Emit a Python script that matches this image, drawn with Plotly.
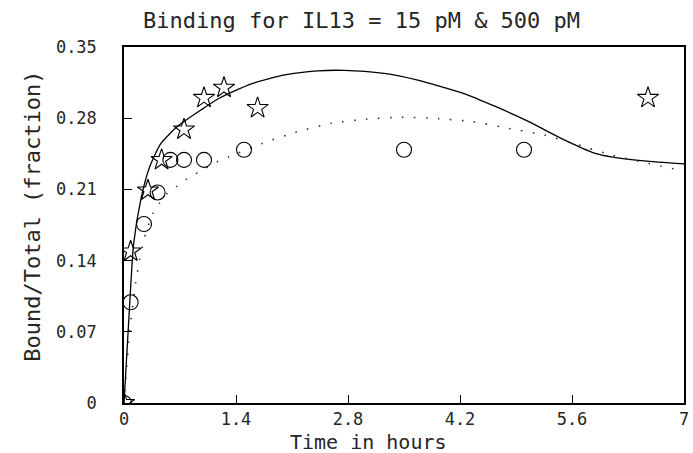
import plotly.graph_objects as go

# ---- data ----
# 15 pM (circles, dotted model curve)
circ_t = [0, 0.083, 0.25, 0.42, 0.58, 0.75, 1.0, 1.5, 3.5, 5.0]
circ_y = [0, 0.099, 0.176, 0.207, 0.239, 0.239, 0.239, 0.249, 0.249, 0.249]

# 500 pM (stars, solid model curve)
star_t = [0, 0.083, 0.3, 0.47, 0.75, 1.0, 1.25, 1.67, 6.55]
star_y = [0, 0.149, 0.209, 0.239, 0.269, 0.300, 0.310, 0.290, 0.300]

# model curves
solid_t = [0, 0.06, 0.12, 0.21, 0.32, 0.46, 0.67, 0.96, 1.19, 1.6, 2.01, 2.42,
           2.75, 3.25, 3.66, 4.24, 4.65, 5.06, 5.47, 5.89, 6.09, 6.5, 7.0]
solid_y = [0, 0.082, 0.156, 0.200, 0.232, 0.255, 0.272, 0.288, 0.2996, 0.314,
           0.3225, 0.3265, 0.327, 0.324, 0.3176, 0.3045, 0.2913, 0.2766, 0.260,
           0.2455, 0.242, 0.238, 0.235]

dot_t = [0, 0.07, 0.145, 0.194, 0.26, 0.36, 0.44, 0.54, 0.66, 0.78, 0.92, 1.16,
         1.31, 1.72, 2.14, 2.59, 3.02, 3.47, 3.93, 4.36, 4.81, 5.25, 5.68, 6.09,
         6.55, 6.98]
dot_y = [0, 0.070, 0.118, 0.1406, 0.1635, 0.1865, 0.196, 0.206, 0.213, 0.220,
         0.2264, 0.237, 0.242, 0.255, 0.266, 0.275, 0.279, 0.281, 0.2796, 0.2766,
         0.270, 0.2635, 0.2537, 0.2439, 0.2357, 0.2284]

x_ticks = [0, 1.4, 2.8, 4.2, 5.6, 7]
x_tick_text = ["0", "1.4", "2.8", "4.2", "5.6", "7"]
y_ticks = [0, 0.07, 0.14, 0.21, 0.28, 0.35]
y_tick_text = ["0", "0.07", "0.14", "0.21", "0.28", "0.35"]

title_text = "Binding for IL13 = 15 pM & 500 pM"
x_title = "Time in hours"
y_title = "Bound/Total (fraction)"

FONT = "DejaVu Sans Mono"
INK = "#262626"

fig = go.Figure()
fig.add_trace(go.Scatter(x=solid_t, y=solid_y, mode="lines",
                         line=dict(color="black", width=1.3, shape="spline", smoothing=0.6),
                         showlegend=False, hoverinfo="skip"))
fig.add_trace(go.Scatter(x=dot_t, y=dot_y, mode="lines",
                         line=dict(color="#333333", width=1.6, shape="spline", smoothing=0.6,
                                   dash="1.6px,10.4px"),
                         showlegend=False, hoverinfo="skip"))
fig.add_trace(go.Scatter(x=circ_t, y=circ_y, mode="markers",
                         marker=dict(symbol="circle-open", size=15, color="black",
                                     line=dict(width=1.1, color="black")),
                         showlegend=False))
fig.add_trace(go.Scatter(x=star_t, y=star_y, mode="markers",
                         marker=dict(symbol="star-open", size=16, color="black",
                                     line=dict(width=1.1, color="black")),
                         showlegend=False))

axis_common = dict(showgrid=False, zeroline=False, showline=True, linecolor="black",
                   linewidth=1.5, mirror=True, ticks="inside", tickcolor="black",
                   tickwidth=1, tickfont=dict(family=FONT, size=17, color=INK))

fig.update_xaxes(range=[0, 7], tickmode="array", tickvals=x_ticks, ticktext=x_tick_text,
                 ticklen=8, ticklabelstandoff=0, **axis_common)
fig.update_yaxes(range=[0, 0.35], tickmode="array", tickvals=y_ticks, ticktext=y_tick_text,
                 ticklen=8, ticklabelstandoff=22, **axis_common)

fig.update_layout(
    width=693, height=453,
    margin=dict(l=124, r=4, t=47, b=50),
    paper_bgcolor="white", plot_bgcolor="white",
    annotations=[
        dict(text=title_text, xref="paper", yref="paper", x=(364 - 124) / 565,
             y=(403 - 21) / 356, xanchor="center", yanchor="middle", showarrow=False,
             font=dict(family=FONT, size=22, color=INK)),
        dict(text=x_title, xref="paper", yref="paper", x=(371 - 124) / 565,
             y=(403 - 442) / 356, xanchor="center", yanchor="middle", showarrow=False,
             font=dict(family=FONT, size=20, color=INK)),
        dict(text=y_title, xref="paper", yref="paper", x=(31 - 124) / 565,
             y=(403 - 216) / 356, xanchor="center", yanchor="middle", showarrow=False,
             textangle=-90, font=dict(family=FONT, size=22, color=INK)),
    ],
)

fig.write_html("out.html")
